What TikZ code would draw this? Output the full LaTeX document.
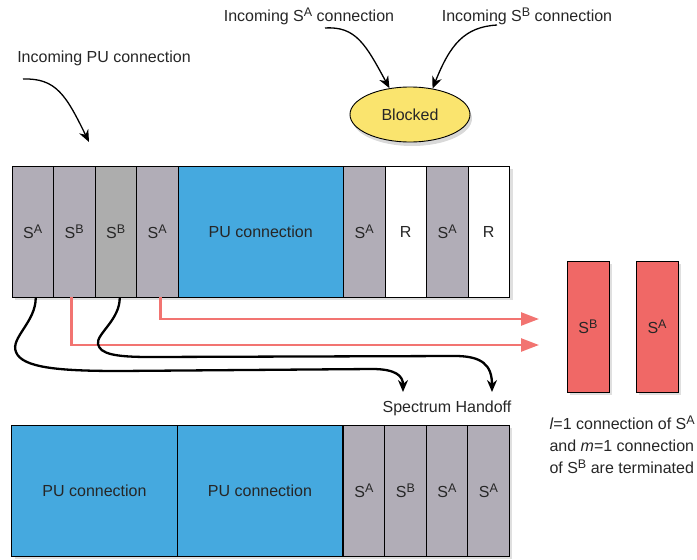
\documentclass[tikz,border=0pt]{standalone}
\usepackage{fontspec}
\setmainfont{Liberation Sans}
\usepackage{tikz}
\usetikzlibrary{arrows.meta,shapes.geometric,shadows}

\definecolor{cellgray}{HTML}{B1ADB7}
\definecolor{cellgrayb}{HTML}{ADADAD}
\definecolor{publue}{HTML}{45A9DF}
\definecolor{termred}{HTML}{F06866}
\definecolor{linered}{HTML}{F27471}
\definecolor{blockyel}{HTML}{FAE46E}
\definecolor{txt}{HTML}{262626}

\newcommand{\supr}[1]{\raisebox{0.62ex}{\fontsize{12.5}{12.5}\selectfont #1}}

\tikzset{
  cell/.style={draw, line width=0.9pt, fill=cellgray, inner sep=0pt,
    minimum width=41.5pt, minimum height=131pt,
    drop shadow={opacity=0.25, shadow xshift=3pt, shadow yshift=-3pt}},
  pubox/.style={cell, fill=publue, minimum width=165.5pt},
  relay/.style={cell, fill=white},
  termbox/.style={cell, fill=termred, minimum width=42pt},
  redline/.style={linered, line width=2.5pt, -{Triangle[length=18pt,width=13pt]}},
  handline/.style={line width=2.3pt, ->},
  inline/.style={line width=1.3pt, ->}
}

\begin{document}
\begin{tikzpicture}[x=1pt, y=-1pt, >={Stealth[length=12pt,width=10pt]},
  every node/.style={font=\fontsize{16}{22}\selectfont, text=txt}]
\useasboundingbox (0,0) rectangle (697,560);

% labels on top
\node (lsa) at (309,16) {Incoming S\supr{A} connection};
\node (lsb) at (527,16) {Incoming S\supr{B} connection};
\node (lpu) at (104,58) {Incoming PU connection};
\node (blocked) at (410,114.5) [ellipse, draw, line width=0.9pt, fill=blockyel, inner sep=0pt,
  minimum width=120pt, minimum height=55pt,
  drop shadow={opacity=0.3, shadow xshift=2pt, shadow yshift=-4pt}] {Blocked};

\coordinate (sastart) at (325,28);
\coordinate (sbstart) at (497,25);
\coordinate (pustart) at (23,79);
\coordinate (puend) at (89,142);
\draw[inline] (sastart) .. controls (356,26) and (366,45) .. (blocked.128);
\draw[inline] (sbstart) .. controls (464,27) and (450,45) .. (blocked.49);
\draw[inline] (pustart) .. controls (56,78) and (66,95) .. (puend);

% channel state before handoff
\node (t1) at (32.75,231.5) [cell] {S\supr{A}};
\node (t2) at (74.25,231.5) [cell] {S\supr{B}};
\node (t3) at (115.75,231.5) [cell, fill=cellgrayb] {S\supr{B}};
\node (t4) at (157.25,231.5) [cell] {S\supr{A}};
\node (t5) at (260.75,231.5) [pubox] {PU connection};
\node (t6) at (364.25,231.5) [cell] {S\supr{A}};
\node (t7) at (405.75,231.5) [relay] {R};
\node (t8) at (447.25,231.5) [cell] {S\supr{A}};
\node (t9) at (488.75,231.5) [relay] {R};

% terminated connections
\node (rb) at (588,326.5) [termbox] {S\supr{B}};
\node (ra) at (657,326.5) [termbox] {S\supr{A}};
\node (note) at (546,445) [anchor=west, align=left]
  {\textit{l}=1 connection of S\supr{A}\\and \textit{m}=1 connection\\of S\supr{B} are terminated};

% channel state after handoff
\node (b1) at (94.5,490.5) [pubox] {PU connection};
\node (b2) at (260,490.5) [pubox] {PU connection};
\node (b3) at (364,490.5) [cell] {S\supr{A}};
\node (b4) at (405.5,490.5) [cell] {S\supr{B}};
\node (b5) at (447,490.5) [cell] {S\supr{A}};
\node (b6) at (488.5,490.5) [cell] {S\supr{A}};
\node (handoff) at (447,408) {Spectrum Handoff};

\coordinate (r1) at (539,319);
\coordinate (r2) at (539,345);
\coordinate (h1) at (403,392);
\coordinate (h2) at (492,392);

\draw[redline] ([xshift=3pt]t4.south) |- (r1);
\draw[redline] ([xshift=-3pt]t2.south) |- (r2);
\draw[handline] ([xshift=3pt]t1.south) .. controls (36,322) and (10,338) .. (16,352)
  .. controls (22,368) and (60,371) .. (120,371) -- (372,369)
  .. controls (396,369) and (403,376) .. (h1);
\draw[handline] ([xshift=4pt]t3.south) .. controls (120,320) and (96,334) .. (98,344)
  .. controls (100,354) and (115,357) .. (150,357) -- (455,356)
  .. controls (482,356) and (492,365) .. (h2);
\end{tikzpicture}
\end{document}
